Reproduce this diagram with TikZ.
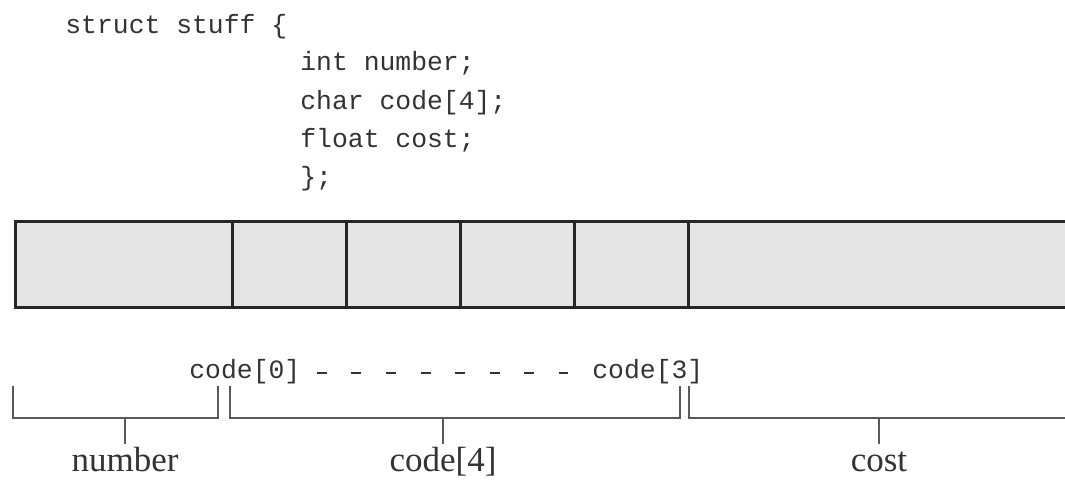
\documentclass[tikz,border=0pt]{standalone}
\usepackage{fontspec}
\setmainfont{Liberation Serif}
\newfontfamily\codefont{Liberation Mono}
\begin{document}
\begin{tikzpicture}[x=0.5pt,y=-0.5pt,
  cell/.style={draw=black!85, line width=1.5pt, fill=black!10, minimum height=43pt, inner sep=0pt, anchor=north west},
  code/.style={font=\codefont\fontsize{13.2pt}{15pt}\selectfont, text=black!80, inner sep=0pt, anchor=base west},
  lbl/.style={font=\fontsize{17.5pt}{20pt}\selectfont, text=black!80, inner sep=0pt, anchor=base},
  brk/.style={draw=black!65, line width=0.8pt}]
\useasboundingbox (0,0) rectangle (1065,479);
\clip (0,0) rectangle (1065,479);
% code text
\node[code] (l0) at (65,33) {struct stuff \{};
\node[code] (l1) at (300,70) {int number;};
\node[code] (l2) at (300,109) {char code[4];};
\node[code] (l3) at (300,147) {float cost;};
\node[code] (l4) at (300,185) {\};};
% memory cells
\node[cell, minimum width=108.5pt] (num) at (14,220) {};
\node[cell, minimum width=57pt] (c0) at (231,220) {};
\node[cell, minimum width=57pt] (c1) at (345,220) {};
\node[cell, minimum width=57pt] (c2) at (459,220) {};
\node[cell, minimum width=57pt] (c3) at (573,220) {};
\node[cell, minimum width=200pt] (cst) at (687,220) {};
% element labels
\node[code] (e0) at (189,378) {code[0]};
\node[code] (e3) at (592,378) {code[3]};
\draw[black!80, line width=1pt, dash pattern=on 5pt off 12.3pt] ([xshift=8pt,yshift=-1pt]e0.east) -- ([xshift=-12pt,yshift=-1pt]e3.west);
% brackets
\coordinate (bn) at (125,418);
\coordinate (bc) at (443,418);
\coordinate (bs) at (879,418);
\draw[brk] (13,386) -- (13,418) -- (218,418) -- (218,386);
\draw[brk] (230,386) -- (230,418) -- (680,418) -- (680,386);
\draw[brk] (689,386) -- (689,418) -- (1070,418);
\draw[brk] (bn) -- ++(0,26);
\draw[brk] (bc) -- ++(0,26);
\draw[brk] (bs) -- ++(0,26);
\node[lbl] (tn) at (125,471) {number};
\node[lbl] (tc) at (443,471) {code[4]};
\node[lbl] (ts) at (879,471) {cost};
\end{tikzpicture}
\end{document}
